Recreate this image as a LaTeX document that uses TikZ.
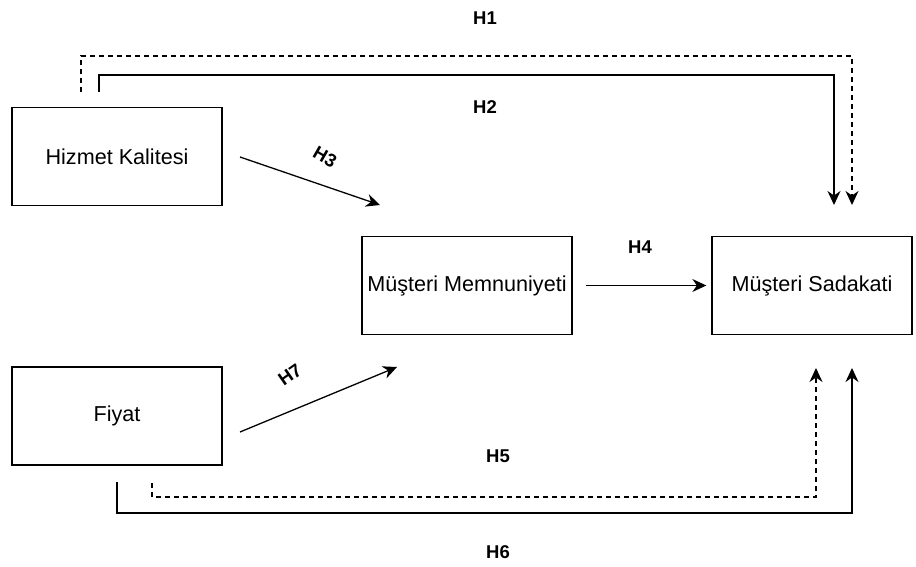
\documentclass[tikz,border=0pt]{standalone}
\usepackage{fontspec}
\setmainfont{Liberation Sans}
\usetikzlibrary{arrows.meta,positioning}

\begin{document}
\begin{tikzpicture}[x=1pt,y=-1pt,on grid,line width=1.3pt,
	box/.style={draw,minimum width=210pt,minimum height=98pt,font=\fontsize{21.6}{26}\selectfont},
	hyp/.style={font=\bfseries\fontsize{18.5}{22}\selectfont,inner sep=1pt},
	hdash/.style={dash pattern=on 5pt off 4pt},
	>={Stealth[length=14pt,width=13pt]}]
	\useasboundingbox (0,0) rectangle (916,567);

	\node[box] (hk) at (117,156.5) {Hizmet Kalitesi};
	\node[box] (fy) [below=259.5pt of hk] {Fiyat};
	\node[box] (mm) at (467,285.5) {Müşteri Memnuniyeti};
	\node[box,minimum width=200pt] (ms) [right=345pt of mm] {Müşteri Sadakati};

	\coordinate (h1a) at (81,92);
	\coordinate (h1b) at (852,205);
	\coordinate (h2a) at (99,92);
	\coordinate (h2b) at (834,205);
	\coordinate (h3a) at (240,157);
	\coordinate (h3b) at (380,205);
	\coordinate (h5a) at (152,483);
	\coordinate (h5b) at (816,368);
	\coordinate (h6a) at (117,482);
	\coordinate (h6b) at (852,368);
	\coordinate (h7a) at (240,432);
	\coordinate (h7b) at (397,367);

	\draw[->,hdash] (h1a) -- ++(0,-36) -| (h1b);
	\draw[->] (h2a) -- ++(0,-17) -| (h2b);
	\draw[->] (h3a) -- (h3b);
	\draw[->,shorten <=13pt,shorten >=5pt] (mm) -- (ms);
	\draw[->,hdash] (h5a) -- ++(0,14) -| (h5b);
	\draw[->] (h6a) -- ++(0,31) -| (h6b);
	\draw[->] (h7a) -- (h7b);

	\node[hyp] (l1) at (485,18) {H1};
	\node[hyp] (l2) at (485,107) {H2};
	\node[hyp,rotate=-30] (l3) at (325,157) {H3};
	\node[hyp] (l4) at (640,247) {H4};
	\node[hyp] (l5) at (498,456) {H5};
	\node[hyp] (l6) at (498,552) {H6};
	\node[hyp,rotate=35] (l7) at (290,375) {H7};

\end{tikzpicture}
\end{document}
